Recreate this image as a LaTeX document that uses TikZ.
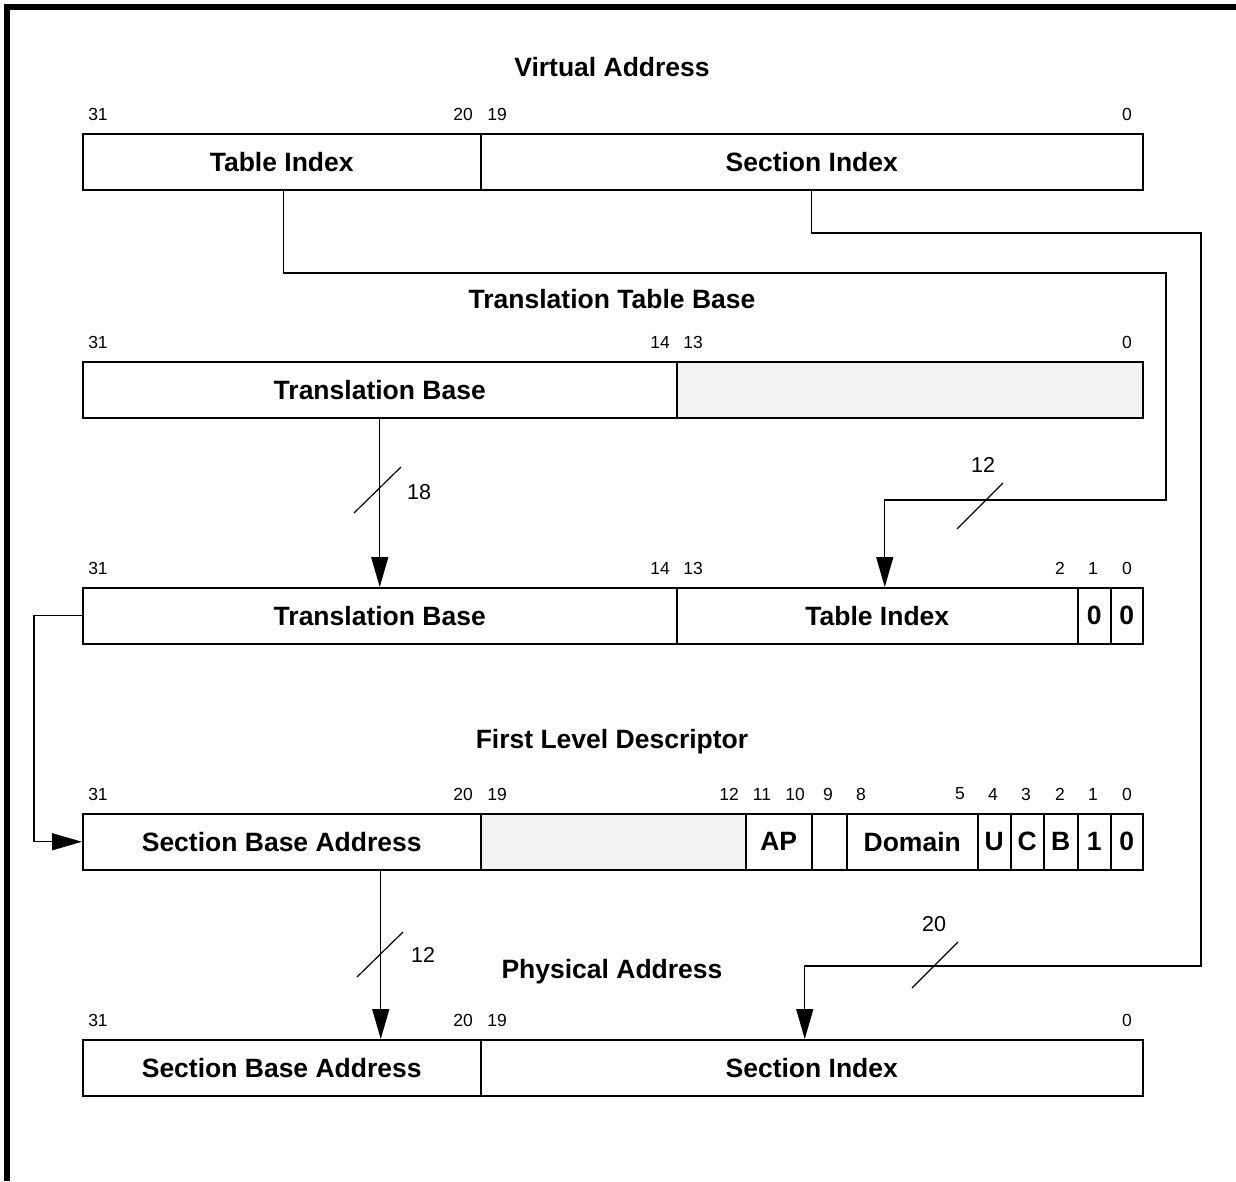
\documentclass[tikz,border=0pt]{standalone}
\usepackage{fontspec}
\setmainfont{Liberation Sans}
\usetikzlibrary{arrows.meta}
\definecolor{fieldgray}{gray}{0.95}
\begin{document}
\begin{tikzpicture}[x=1pt,y=-1pt,
 field/.style={draw, line width=1.5pt, anchor=north west, minimum height=56pt, inner sep=0pt,
   font=\bfseries\fontsize{26.5}{30}\selectfont},
 grayfield/.style={field, fill=fieldgray},
 bitno/.style={font=\fontsize{17.5}{20}\selectfont, inner sep=0pt},
 title/.style={font=\bfseries\fontsize{26.5}{30}\selectfont, inner sep=0pt},
 conn/.style={line width=1.4pt},
 arr/.style={conn, -{Triangle[length=30pt,width=17pt]}},
 busw/.style={font=\fontsize{21.5}{24}\selectfont, inner sep=0pt},
 slash/.style={line width=1.2pt}
]
\useasboundingbox (0,0) rectangle (1236,1181);
\fill (4,4) rectangle (1236,10);
\fill (4,4) rectangle (10,1181);

% titles
\node[title] (tVA) at (612,67) {Virtual Address};
\node[title] (tTTB) at (612,299) {Translation Table Base};
\node[title] (tFLD) at (612,742) {First Level Descriptor};
\node[title] (tPA) at (612,972) {Physical Address};

% row 1: virtual address
\node[field, minimum width=398pt] (vaTI) at (82,133) {Table Index};
\node[field, minimum width=662pt] (vaSI) at (480,133) {Section Index};
\node[bitno] (b1a) at (98,114) {31};
\node[bitno] (b1b) at (463,114) {20};
\node[bitno] (b1c) at (497,114) {19};
\node[bitno] (b1d) at (1127,114) {0};

% row 2: translation table base
\node[grayfield, minimum width=466pt] (ttR) at (676,361) {};
\node[field, minimum width=594pt] (ttTB) at (82,361) {Translation Base};
\node[bitno] (b2a) at (98,342) {31};
\node[bitno] (b2b) at (660,342) {14};
\node[bitno] (b2c) at (693,342) {13};
\node[bitno] (b2d) at (1127,342) {0};

% row 3: table index address
\node[field, minimum width=594pt] (tiTB) at (82,587) {Translation Base};
\node[field, minimum width=401pt] (tiTI) at (676,587) {Table Index};
\node[field, minimum width=33pt] (tiB1) at (1077,587) {0};
\node[field, minimum width=32pt] (tiB0) at (1110,587) {0};
\node[bitno] (b3a) at (98,568) {31};
\node[bitno] (b3b) at (660,568) {14};
\node[bitno] (b3c) at (693,568) {13};
\node[bitno] (b3d) at (1060,568) {2};
\node[bitno] (b3e) at (1093,568) {1};
\node[bitno] (b3f) at (1127,568) {0};

% row 4: first level descriptor
\node[grayfield, minimum width=265pt] (fdG) at (480,813) {};
\node[field, minimum width=398pt] (fdSB) at (82,813) {Section Base Address};
\node[field, minimum width=66pt] (fdAP) at (745,813) {AP};
\node[field, minimum width=35pt] (fdR) at (811,813) {};
\node[field, minimum width=131pt] (fdD) at (846,813) {Domain};
\node[field, minimum width=33pt] (fdU) at (977,813) {U};
\node[field, minimum width=33pt] (fdC) at (1010,813) {C};
\node[field, minimum width=34pt] (fdB) at (1043,813) {B};
\node[field, minimum width=33pt] (fd1) at (1077,813) {1};
\node[field, minimum width=32pt] (fd0) at (1110,813) {0};
\node[bitno] (b4a) at (98,794) {31};
\node[bitno] (b4b) at (463,794) {20};
\node[bitno] (b4c) at (497,794) {19};
\node[bitno] (b4d) at (729,794) {12};
\node[bitno] (b4e) at (762,794) {11};
\node[bitno] (b4f) at (795,794) {10};
\node[bitno] (b4g) at (828,794) {9};
\node[bitno] (b4h) at (861,794) {8};
\node[bitno] (b4i) at (960,794) {5};
\node[bitno] (b4j) at (993,794) {4};
\node[bitno] (b4k) at (1026,794) {3};
\node[bitno] (b4l) at (1060,794) {2};
\node[bitno] (b4m) at (1093,794) {1};
\node[bitno] (b4n) at (1127,794) {0};

% row 5: physical address
\node[field, minimum width=398pt] (paSB) at (82,1039) {Section Base Address};
\node[field, minimum width=662pt] (paSI) at (480,1039) {Section Index};
\node[bitno] (b5a) at (98,1020) {31};
\node[bitno] (b5b) at (463,1020) {20};
\node[bitno] (b5c) at (497,1020) {19};
\node[bitno] (b5d) at (1127,1020) {0};

% connector corners
\coordinate (k1) at (1166,273);
\coordinate (k2) at (1166,500);
\coordinate (k3) at (1201,233);
\coordinate (k4) at (1201,966);
\coordinate (k5) at (34,615);

% connectors
\draw[arr] ([xshift=2pt]vaTI.south) |- (k1) -- (k2) -| ([xshift=7.5pt]tiTI.north);
\draw[arr] (vaSI.south) |- (k3) -- (k4) -| ([xshift=-7pt]paSI.north);
\draw[arr] (ttTB.south) -- (tiTB.north);
\draw[arr] (tiTB.west) -- (tiTB.west -| k5) |- (fdSB.west);
\draw[arr] ([xshift=99pt]fdSB.south) -- ([xshift=99pt]paSB.north);

% bus width marks
\draw[slash] (354,513) -- (401,467);
\node[busw] (w18) at (419,492) {18};
\draw[slash] (957,529) -- (1003,483);
\node[busw] (w12a) at (983,465) {12};
\draw[slash] (357,977) -- (403,932);
\node[busw] (w12b) at (423,955) {12};
\draw[slash] (912,988) -- (958,942);
\node[busw] (w20) at (934,924) {20};
\end{tikzpicture}
\end{document}
